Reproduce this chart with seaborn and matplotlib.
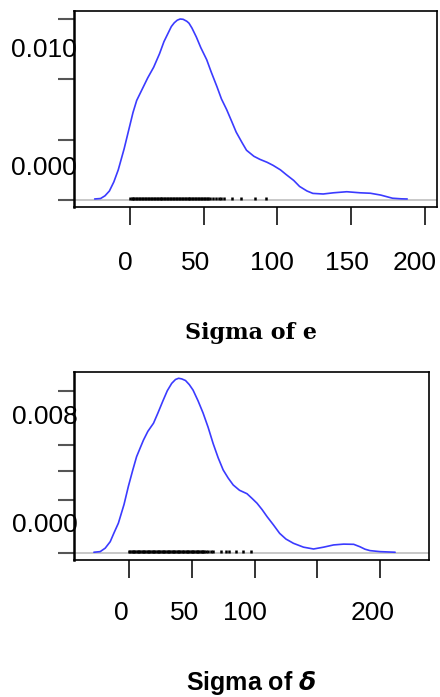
import matplotlib
matplotlib.use("Agg")
import matplotlib.pyplot as plt
import matplotlib.transforms as mtransforms
import seaborn as sns

# density curve of Sigma of e
sig_e_x = [-24, -20, -17, -14, -11, -8, -4, -1, 2, 4.5, 7, 9, 12, 16, 20, 23, 26, 28, 30,
           32, 34, 36, 38.5, 40, 42, 45, 48, 52, 55, 59, 62, 65.5, 69, 72, 76, 79, 84, 88,
           93, 97, 102, 106, 111, 115, 120, 124, 131, 138, 147, 156, 163, 170, 178, 184, 188]
sig_e_d = [0.00007, 0.0001, 0.00028, 0.0006, 0.0012, 0.002, 0.0034, 0.0046, 0.0058, 0.0066,
           0.0071, 0.0075, 0.0081, 0.0088, 0.0097, 0.0105, 0.0111, 0.0115, 0.01175, 0.01192,
           0.0120, 0.01198, 0.01185, 0.01172, 0.0114, 0.0108, 0.0101, 0.0093, 0.0085, 0.0075,
           0.0067, 0.006, 0.0052, 0.0045, 0.0038, 0.0033, 0.0029, 0.0027, 0.0025, 0.0023,
           0.0020, 0.00168, 0.0013, 0.0009, 0.0006, 0.00044, 0.0004, 0.00048, 0.00055,
           0.00048, 0.00045, 0.00033, 0.00012, 0.00008, 0.00007]
rug_e = [0, 1, 2, 3, 4, 5, 6, 7, 8, 9, 10, 11, 12, 13, 14, 15, 16, 17, 18, 19, 20, 21, 22,
         23, 24, 25, 26, 27, 28, 29, 30, 31, 32, 33, 34, 35, 36, 37, 38, 39, 40, 41, 42, 43,
         44, 45, 46, 47, 48, 49, 50, 51, 52, 53, 54.5, 56, 58, 60, 62, 64, 69, 75, 85, 92]

# density curve of Sigma of delta
sig_d_x = [-28, -23, -19, -15, -12, -8.5, -4, -0.5, 3, 6, 9, 11.5, 15, 19.5, 23, 27, 30.5,
           34, 37, 39.5, 42, 45, 48, 51, 55, 59, 63, 67, 71, 75, 79, 83, 88, 94, 98, 102,
           106, 110, 115, 120, 125, 131, 139, 147, 155, 163, 171, 179, 184, 188, 192, 200,
           212]
sig_d_d = [0.00005, 0.00008, 0.00025, 0.00057, 0.001, 0.00148, 0.0024, 0.0033, 0.0041,
           0.00475, 0.0052, 0.00557, 0.006, 0.0064, 0.0069, 0.0075, 0.0080, 0.00836, 0.00855,
           0.00861, 0.00858, 0.0085, 0.0083, 0.00803, 0.0075, 0.0069, 0.0062, 0.0054, 0.0047,
           0.0041, 0.0037, 0.00336, 0.0031, 0.00293, 0.0027, 0.00246, 0.00215, 0.0018,
           0.0014, 0.00098, 0.0007, 0.00049, 0.0003, 0.00021, 0.0003, 0.00041, 0.00045,
           0.00044, 0.00032, 0.0002, 0.00013, 0.00008, 0.00005]
rug_d = [0, 1, 2, 3, 4, 5, 6, 7, 8, 9, 10, 11, 12, 13, 14, 15, 16, 17, 18, 19, 20, 21, 22,
         23, 24, 25, 26, 27, 28, 29, 30, 31, 32, 33, 34, 35, 36, 37, 38, 39, 40, 41, 42, 43,
         44, 45, 46, 47, 48, 49, 50, 51, 52, 53, 54, 55, 56, 57, 58, 59, 60, 61.5, 63, 65,
         67, 73, 77, 80, 85, 91, 97]

x_ticks = [0, 50, 100, 150, 200]

sns.set_theme(style="white")
plt.rcParams["font.family"] = ["Liberation Sans", "DejaVu Sans"]
plt.rcParams["mathtext.fontset"] = "dejavusans"
plt.rcParams["text.color"] = "black"

fig = plt.figure(figsize=(4.4, 6.97), dpi=100)
ax1 = fig.add_axes([0.1689, 0.7034, 0.8236, 0.2808])
ax2 = fig.add_axes([0.1689, 0.1966, 0.8061, 0.2697])

blue = "#3b3bff"


def draw_panel(ax, xs, ds, rug, xlim, ylim, yticks, rug_h):
    ax.axhline(0, color="#c8c8c8", lw=1.4, zorder=1)
    sns.lineplot(x=xs, y=ds, color=blue, lw=1.2, ax=ax, sort=False, zorder=3)
    ax.vlines(rug, 0, rug_h, color="black", lw=1.8, zorder=2)
    ax.set_xlim(*xlim)
    ax.set_ylim(*ylim)
    ax.set_xticks(x_ticks)
    ax.set_xticklabels([])
    ax.set_yticks(yticks)
    ax.set_yticklabels([])
    ax.tick_params(axis="x", length=13, width=1.4, color="#333333", direction="out",
                   bottom=True)
    ax.tick_params(axis="y", length=11.5, width=1.5, color="#555555", direction="out",
                   left=True)
    for s in ax.spines.values():
        s.set_color("black")
        s.set_linewidth(1.2)
    ax.spines["left"].set_linewidth(1.8)
    ax.set_xlabel("")
    ax.set_ylabel("")


draw_panel(ax1, sig_e_x, sig_e_d, rug_e, (-37.8, 208.0), (-0.000444, 0.01253),
           [0, 0.004, 0.008, 0.012], 0.0002)
draw_panel(ax2, sig_d_x, sig_d_d, rug_d, (-43.6, 239.0), (-0.00033, 0.00892),
           [0, 0.00262, 0.00406, 0.00533, 0.0080], 0.00015)

# tick labels sit a bit off their ticks in the original
ylab = mtransforms.blended_transform_factory(ax1.transAxes, ax1.transData)
ax1.text(0.008, 0.00995, "0.010", transform=ylab, ha="right", va="center", fontsize=19)
ax1.text(0.008, 0.00212, "0.000", transform=ylab, ha="right", va="center", fontsize=19)
ylab2 = mtransforms.blended_transform_factory(ax2.transAxes, ax2.transData)
ax2.text(0.011, 0.00672, "0.008", transform=ylab2, ha="right", va="center", fontsize=19)
ax2.text(0.010, 0.00139, "0.000", transform=ylab2, ha="right", va="center", fontsize=19)

xlab1 = mtransforms.blended_transform_factory(ax1.transData, ax1.transAxes)
for pos, lab in zip([-3.4, 44.7, 96.1, 146.9, 193.2], ["0", "50", "100", "150", "200"]):
    ax1.text(pos, -0.286, lab, transform=xlab1, ha="center", va="center", fontsize=19)
xlab2 = mtransforms.blended_transform_factory(ax2.transData, ax2.transAxes)
for pos, lab in zip([-6.4, 44.6, 92.4, 194.2], ["0", "50", "100", "200"]):
    ax2.text(pos, -0.2835, lab, transform=xlab2, ha="center", va="center", fontsize=19)

fig.text(251 / 440, 1 - 333 / 697, "Sigma of e", ha="center", va="center",
         fontsize=16, fontweight="bold", family="DejaVu Serif")
fig.text(251.5 / 440, 1 - 683 / 697, r"Sigma of $\boldsymbol{\delta}$", ha="center",
         va="center", fontsize=18, fontweight="bold")

fig.savefig("out.png", dpi=100)
